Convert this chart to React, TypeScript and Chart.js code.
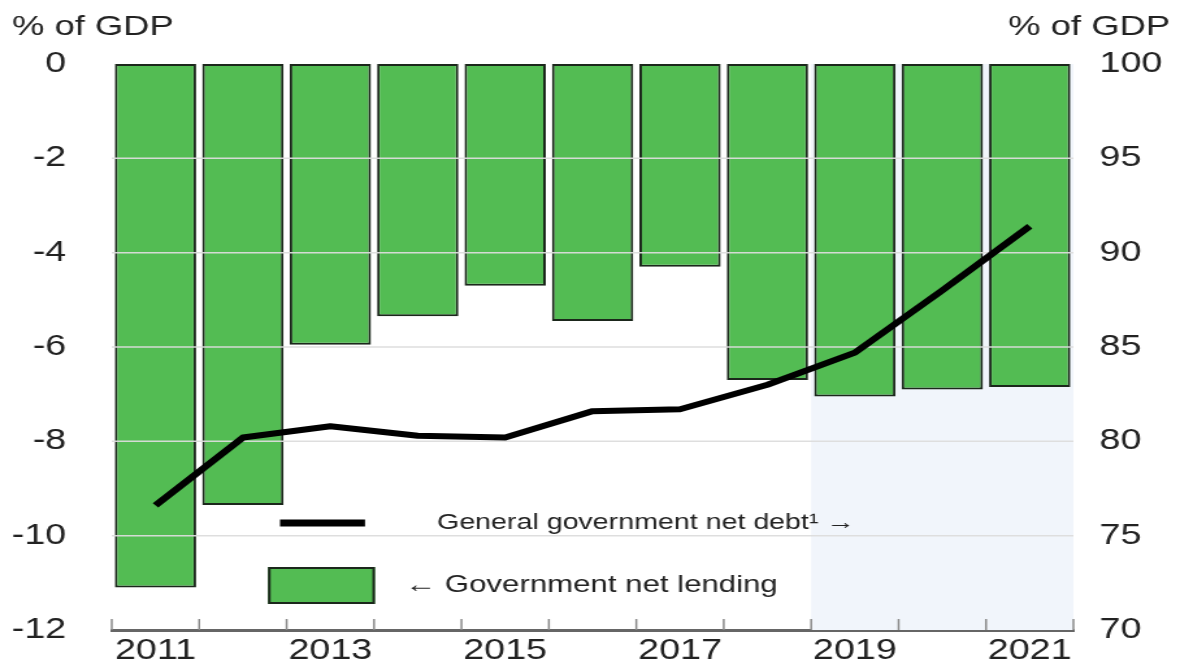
import React, { useEffect, useRef } from 'react';
import { Chart, registerables } from 'chart.js';

Chart.register(...registerables);

// ---- data ----
const years = ['2011', '2012', '2013', '2014', '2015', '2016', '2017', '2018', '2019', '2020', '2021'];
const netLending = [-11.1, -9.35, -5.95, -5.35, -4.7, -5.45, -4.3, -6.7, -7.05, -6.9, -6.85];
const netDebt = [76.6, 80.2, 80.8, 80.3, 80.2, 81.6, 81.7, 83.0, 84.7, 88.0, 91.4];
const leftAxisRange = [-12, 0];
const rightAxisRange = [70, 100];
const projectionStart = '2019';
const unitLabel = '% of GDP';
const debtLabel = 'General government net debt\u00b9 \u2192';
const lendingLabel = '\u2190 Government net lending';

// ---- styling ----
const PAGE_W = 1180;
const PAGE_H = 665;
const CANVAS_W = 908;
const S = PAGE_W / CANVAS_W; // horizontal stretch of the original picture
const FONT = '"Liberation Sans", Arial, sans-serif';
const TEXT = '#222222';
const GREEN = '#53bc53';
const BAR_EDGE = '#1b271b';

const decor = {
  id: 'decor',
  beforeDatasetsDraw(chart: any) {
    const { ctx, chartArea: a, scales } = chart;
    const x = scales.x;
    const i = years.indexOf(projectionStart);
    const half = (x.getPixelForValue(1) - x.getPixelForValue(0)) / 2;
    const x0 = x.getPixelForValue(i) - half;
    ctx.save();
    ctx.fillStyle = '#f1f5fb';
    ctx.fillRect(x0, a.top, a.right - x0, a.bottom - a.top);
    ctx.restore();
  },
  afterDatasetDraw(chart: any, args: any) {
    if (args.index !== 0) return;
    const { ctx, chartArea: a, scales } = chart;
    const y = scales.y;
    ctx.save();
    ctx.strokeStyle = 'rgba(220,220,220,0.95)';
    ctx.lineWidth = 1.5;
    y.ticks.forEach((t: any) => {
      if (t.value === y.min || t.value === y.max) return;
      const py = y.getPixelForValue(t.value);
      ctx.beginPath();
      ctx.moveTo(a.left, py);
      ctx.lineTo(a.right, py);
      ctx.stroke();
    });
    ctx.restore();
  },
  afterDraw(chart: any) {
    const { ctx, chartArea: a, scales } = chart;
    const x = scales.x;
    const half = (x.getPixelForValue(1) - x.getPixelForValue(0)) / 2;
    ctx.save();
    // tick marks pointing up into the plot
    ctx.strokeStyle = '#8a8a8a';
    ctx.lineWidth = 1.5;
    for (let i = 0; i <= years.length; i++) {
      const px = x.getPixelForValue(Math.min(i, years.length - 1)) + (i === years.length ? half : -half);
      ctx.beginPath();
      ctx.moveTo(px, a.bottom - 11);
      ctx.lineTo(px, a.bottom);
      ctx.stroke();
    }
    // unit labels
    ctx.fillStyle = TEXT;
    ctx.font = `28px ${FONT}`;
    ctx.textBaseline = 'alphabetic';
    ctx.textAlign = 'left';
    ctx.fillText(unitLabel, 12 / S, 35);
    ctx.textAlign = 'right';
    ctx.fillText(unitLabel, 1170 / S, 35);
    // legend: line
    ctx.strokeStyle = '#000';
    ctx.lineWidth = 7;
    ctx.lineCap = 'butt';
    ctx.beginPath();
    ctx.moveTo(280 / S, 523);
    ctx.lineTo(365 / S, 523);
    ctx.stroke();
    ctx.font = `22px ${FONT}`;
    ctx.textAlign = 'left';
    ctx.textBaseline = 'middle';
    ctx.fillText(debtLabel, 437 / S, 523);
    // legend: bar
    ctx.fillStyle = GREEN;
    ctx.fillRect(268 / S, 567, 107 / S, 37);
    ctx.strokeStyle = BAR_EDGE;
    ctx.lineWidth = 2;
    ctx.strokeRect(268 / S + 1, 568, 107 / S - 2, 35);
    ctx.fillStyle = TEXT;
    ctx.font = `24px ${FONT}`;
    ctx.fillText(lendingLabel, 405 / S, 585);
    ctx.restore();
  },
};

export default function App() {
  const ref = useRef<HTMLCanvasElement | null>(null);

  useEffect(() => {
    document.body.style.margin = '0';
    const canvas = ref.current;
    if (!canvas) return;
    const chart = new Chart(canvas, {
      data: {
        labels: years,
        datasets: [
          {
            type: 'bar',
            label: lendingLabel,
            data: netLending,
            yAxisID: 'y',
            backgroundColor: GREEN,
            borderColor: BAR_EDGE,
            borderWidth: 2,
            borderSkipped: false,
            barPercentage: 0.93,
            categoryPercentage: 1,
            order: 2,
          },
          {
            type: 'line',
            label: debtLabel,
            data: netDebt,
            yAxisID: 'y1',
            borderColor: '#000',
            borderWidth: 6,
            pointRadius: 0,
            tension: 0,
            borderJoinStyle: 'round',
            order: 1,
          },
        ],
      } as any,
      options: {
        responsive: false,
        animation: false,
        layout: { padding: { top: 64, left: 0, right: 0, bottom: 0 } },
        plugins: { legend: { display: false }, tooltip: { enabled: false } },
        scales: {
          x: {
            type: 'category',
            grid: { display: false, drawTicks: false },
            border: { display: true, color: '#666', width: 3 },
            ticks: {
              autoSkip: false,
              maxRotation: 0,
              padding: 4,
              color: TEXT,
              font: { size: 29, family: FONT },
              callback: (_v: any, i: number) => (i % 2 === 0 ? years[i] : ''),
            },
            afterFit: (s: any) => {
              s.height = 35;
            },
          },
          y: {
            position: 'left',
            min: leftAxisRange[0],
            max: leftAxisRange[1],
            grid: { display: false, drawTicks: true, tickLength: 35 },
            border: { display: false },
            ticks: { stepSize: 2, padding: 0, color: TEXT, font: { size: 29, family: FONT } },
            afterFit: (s: any) => {
              s.width = 86;
            },
          },
          y1: {
            position: 'right',
            min: rightAxisRange[0],
            max: rightAxisRange[1],
            grid: { display: false, drawTicks: true, tickLength: 20 },
            border: { display: false },
            ticks: { stepSize: 5, padding: 0, color: TEXT, font: { size: 29, family: FONT } },
            afterFit: (s: any) => {
              s.width = 82;
            },
          },
        },
      } as any,
      plugins: [decor],
    });
    return () => chart.destroy();
  }, []);

  return (
    <div style={{ width: PAGE_W, height: PAGE_H, overflow: 'hidden', background: '#fff' }}>
      <canvas
        ref={ref}
        width={CANVAS_W}
        height={PAGE_H}
        style={{ transform: `scaleX(${S})`, transformOrigin: '0 0', display: 'block' }}
      />
    </div>
  );
}
